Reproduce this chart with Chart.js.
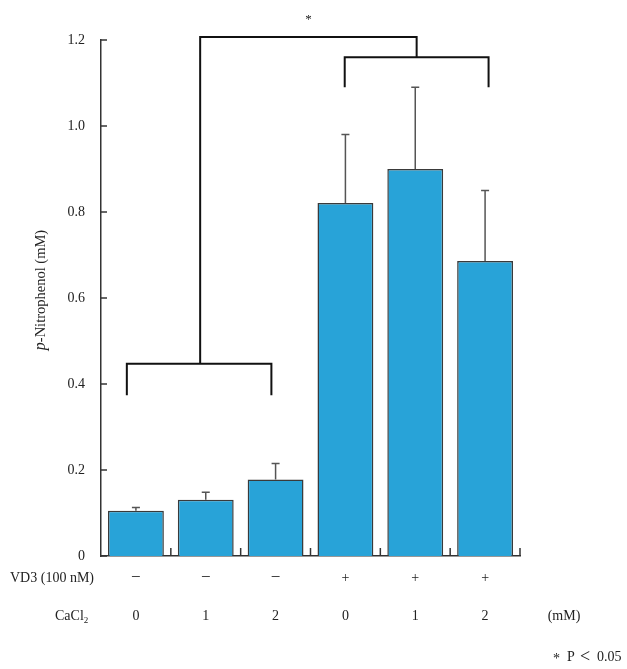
<!DOCTYPE html>
<html><head><meta charset="utf-8">
<script src="https://cdn.jsdelivr.net/npm/chart.js@4"></script>
<style>html,body{margin:0;padding:0;background:#fff}#w{width:627px;height:669px}</style>
</head><body><div id="w"><canvas id="c" width="627" height="669"></canvas></div>
<script>
const categories = ['1','2','3','4','5','6'];
const means = [0.105, 0.131, 0.178, 0.821, 0.900, 0.686];
const errTops = [0.113, 0.148, 0.215, 0.980, 1.090, 0.850];
const vd3Labels = ['−','−','−','+','+','+'];
const cacl2Labels = ['0','1','2','0','1','2'];
const yTicks = [0, 0.2, 0.4, 0.6, 0.8, 1.0, 1.2];
// brackets: [xStartIndex, xEndIndex, yBar, yLegEnd]
const leftBracket = [-0.13, 1.94, 0.447, 0.374];
const rightBracket = [2.99, 5.05, 1.160, 1.090];
const topBracket = [0.92, 4.02, 1.207];

const FONT = '"Liberation Serif", "DejaVu Serif", serif';

const deco = {
  id: 'deco',
  afterDraw(chart) {
    const ctx = chart.ctx, xs = chart.scales.x, ys = chart.scales.y, ca = chart.chartArea;
    const meta = chart.getDatasetMeta(0);
    ctx.save();
    // error bars
    ctx.strokeStyle = '#555'; ctx.lineWidth = 1.5;
    meta.data.forEach((b, i) => {
      const yt = ys.getPixelForValue(errTops[i]);
      ctx.beginPath(); ctx.moveTo(b.x, b.y); ctx.lineTo(b.x, yt);
      ctx.moveTo(b.x - 4, yt); ctx.lineTo(b.x + 4, yt); ctx.stroke();
    });
    // y ticks (inside)
    ctx.strokeStyle = '#333'; ctx.lineWidth = 1.5;
    yTicks.forEach(v => {
      const y = ys.getPixelForValue(v);
      ctx.beginPath(); ctx.moveTo(ca.left, y); ctx.lineTo(ca.left + 6, y); ctx.stroke();
    });
    // x ticks at category boundaries
    for (let i = 0; i < categories.length; i++) {
      const x = xs.getPixelForValue(i + 0.5);
      ctx.beginPath(); ctx.moveTo(x, ca.bottom); ctx.lineTo(x, ca.bottom - 8); ctx.stroke();
    }
    // brackets
    ctx.strokeStyle = '#111'; ctx.lineWidth = 2;
    const drawB = (b) => {
      const x1 = xs.getPixelForValue(b[0]), x2 = xs.getPixelForValue(b[1]);
      const y = ys.getPixelForValue(b[2]), yl = ys.getPixelForValue(b[3]);
      ctx.beginPath(); ctx.moveTo(x1, yl); ctx.lineTo(x1, y); ctx.lineTo(x2, y); ctx.lineTo(x2, yl); ctx.stroke();
    };
    drawB(leftBracket); drawB(rightBracket);
    const tx1 = xs.getPixelForValue(topBracket[0]), tx2 = xs.getPixelForValue(topBracket[1]);
    const ty = ys.getPixelForValue(topBracket[2]);
    ctx.beginPath();
    ctx.moveTo(tx1, ys.getPixelForValue(leftBracket[2])); ctx.lineTo(tx1, ty);
    ctx.lineTo(tx2, ty); ctx.lineTo(tx2, ys.getPixelForValue(rightBracket[2]));
    ctx.stroke();
    // asterisk
    ctx.fillStyle = '#222'; ctx.font = '13px ' + FONT; ctx.textAlign = 'center'; ctx.textBaseline = 'middle';
    ctx.fillText('*', (tx1 + tx2) / 2, 20);
    // y title
    ctx.save();
    ctx.translate(41, 290); ctx.rotate(-Math.PI / 2);
    ctx.textAlign = 'left';
    const p = 'p', rest = '-Nitrophenol (mM)';
    ctx.font = 'italic 16px ' + FONT;
    const wp = ctx.measureText(p).width;
    ctx.font = '14.5px ' + FONT;
    const wr = ctx.measureText(rest).width;
    const start = -(wp + wr) / 2;
    ctx.font = 'italic 16px ' + FONT; ctx.fillText(p, start, 0);
    ctx.font = '14.5px ' + FONT; ctx.fillText(rest, start + wp, 0);
    ctx.restore();
    // bottom rows
    ctx.font = '14px ' + FONT; ctx.textAlign = 'left'; ctx.textBaseline = 'middle'; ctx.fillStyle = '#222';
    ctx.fillText('VD3 (100 nM)', 10, 578);
    ctx.fillText('CaCl', 55, 616);
    const wc = ctx.measureText('CaCl').width;
    ctx.font = '9px ' + FONT; ctx.fillText('2', 55 + wc, 621);
    ctx.textAlign = 'center';
    for (let i = 0; i < categories.length; i++) {
      const x = xs.getPixelForValue(i);
      ctx.font = (vd3Labels[i] === '−' ? '17px ' : '14px ') + FONT;
      ctx.fillText(vd3Labels[i], x, 578);
      ctx.font = '14px ' + FONT;
      ctx.fillText(cacl2Labels[i], x, 616);
    }
    ctx.fillText('(mM)', 564, 616);
    ctx.textAlign = 'left';
    ctx.fillText('*', 553, 659);
    ctx.fillText('P', 567, 657);
    ctx.font = '18px ' + FONT; ctx.fillText('<', 580, 657);
    ctx.font = '14px ' + FONT; ctx.fillText('0.05', 597, 657);
    ctx.restore();
  }
};

new Chart(document.getElementById('c'), {
  type: 'bar',
  data: {
    labels: categories,
    datasets: [{
      data: means,
      backgroundColor: '#28a3d8',
      borderColor: '#3a3a3a',
      borderWidth: 1.5,
      borderSkipped: 'bottom',
      categoryPercentage: 1.0,
      barPercentage: 0.8
    }]
  },
  options: {
    responsive: false,
    animation: false,
    layout: { padding: { left: 0, top: 40, right: 107, bottom: 0 } },
    plugins: { legend: { display: false }, tooltip: { enabled: false } },
    scales: {
      x: {
        grid: { display: false, drawTicks: false },
        border: { display: true, color: '#333', width: 1.5 },
        ticks: { display: false },
        afterFit(s) { s.height = 113; }
      },
      y: {
        min: 0, max: 1.2,
        grid: { display: false, drawTicks: false },
        border: { display: true, color: '#333', width: 1.5 },
        ticks: {
          stepSize: 0.2, padding: 16, color: '#222',
          font: { family: FONT, size: 14 },
          callback: v => (Math.abs(v) < 1e-9 ? '0' : v.toFixed(1))
        },
        afterFit(s) { s.width = 101; }
      }
    }
  },
  plugins: [deco]
});
</script>
</body></html>
